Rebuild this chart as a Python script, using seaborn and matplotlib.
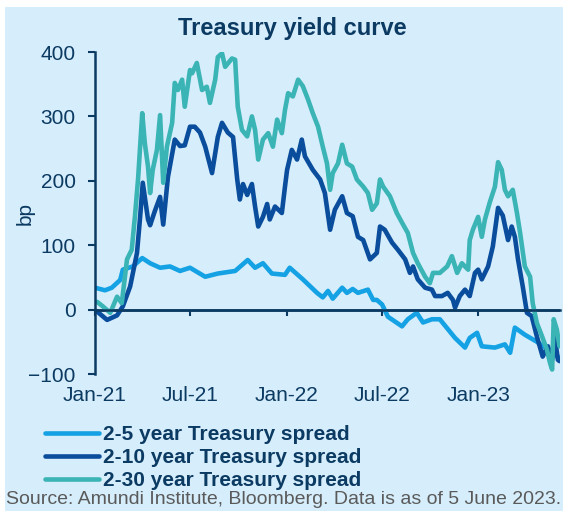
import seaborn as sns
import matplotlib.pyplot as plt
import matplotlib.patches as mpatches
import pandas as pd

# Days since 1 Jan 2021 and spread in bp
days_2_5 = [0, 19, 32, 48, 53, 72, 90, 105, 124, 143, 162, 181, 210, 234, 267, 291,
            305, 320, 337, 362, 371, 396, 423, 434, 444, 453, 471, 480, 491, 501,
            520, 530, 537, 547, 558, 585, 596, 613, 625, 642, 657, 667, 686, 705,
            714, 728, 737, 762, 781, 791, 800, 819, 842, 859, 872, 885]
spread_2_5 = [34, 30, 34, 46, 62, 67, 80, 72, 65, 67, 60, 65, 51, 56, 60, 77,
              65, 72, 56, 54, 65, 47, 26, 19, 29, 17, 34, 26, 32, 26,
              31, 15, 15, 8, -11, -26, -15, -5, -20, -15, -15, -25, -44, -59,
              -44, -36, -57, -59, -54, -67, -28, -39, -50, -60, -68, -75]

days_2_10 = [4, 23, 42, 53, 67, 80, 86, 91, 101, 105, 114, 124, 130, 139, 152, 162,
             171, 181, 190, 200, 210, 223, 234, 242, 253, 263, 271, 276, 282, 290,
             299, 305, 311, 320, 328, 333, 343, 356, 362, 366, 375, 385, 394, 400,
             415, 429, 438, 448, 457, 471, 480, 491, 501, 511, 524, 537, 543, 552,
             566, 577, 591, 600, 606, 615, 629, 642, 648, 661, 672, 682, 686, 695,
             705, 714, 724, 730, 737, 749, 758, 768, 777, 787, 794, 800, 806, 815,
             823, 832, 842, 853, 863, 871, 876, 882, 885]
spread_2_10 = [-3, -16, -9, 5, 36, 88, 144, 197, 140, 131, 153, 175, 132, 206, 264, 254,
               255, 284, 284, 275, 253, 212, 268, 290, 275, 268, 202, 171, 195, 178,
               195, 160, 129, 144, 164, 140, 160, 150, 191, 217, 248, 233, 264, 238,
               217, 202, 181, 124, 155, 176, 150, 145, 113, 108, 78, 88, 129, 124,
               104, 93, 78, 57, 67, 47, 34, 31, 21, 21, 26, 15, 3, 21,
               31, 21, 57, 62, 47, 67, 98, 158, 146, 108, 129, 113, 78, 36,
               -5, -10, -42, -73, -57, -78, -42, -78, -80]

days_2_30 = [4, 15, 29, 42, 51, 61, 70, 76, 82, 90, 95, 101, 105, 110, 118, 124,
             130, 137, 147, 152, 158, 166, 171, 181, 185, 194, 204, 213, 219, 229,
             234, 242, 248, 261, 267, 272, 280, 290, 299, 305, 311, 320, 330, 339,
             347, 356, 362, 368, 377, 387, 396, 406, 415, 425, 434, 442, 448, 453,
             463, 471, 480, 490, 499, 511, 520, 528, 537, 543, 549, 562, 575, 585,
             596, 606, 615, 629, 638, 644, 657, 671, 680, 690, 699, 711, 714, 720,
             730, 737, 743, 752, 762, 768, 775, 781, 787, 796, 804, 810, 819, 829,
             834, 842, 852, 861, 867, 871, 874, 880, 885]
spread_2_30 = [12, 5, -5, 20, 10, 78, 93, 144, 202, 305, 258, 222, 181, 217, 248, 302,
               197, 253, 290, 352, 341, 357, 315, 372, 367, 383, 341, 346, 321, 357,
               392, 398, 377, 390, 388, 315, 279, 269, 300, 279, 233, 264, 274, 253,
               295, 274, 310, 336, 331, 357, 347, 326, 305, 284, 253, 227, 186, 212,
               227, 256, 227, 222, 202, 191, 181, 155, 165, 202, 191, 176, 150, 135,
               119, 88, 72, 51, 41, 57, 57, 67, 83, 57, 72, 62, 108, 124,
               144, 113, 140, 166, 191, 229, 217, 186, 176, 186, 150, 119, 67, 51,
               10, -21, -42, -62, -83, -93, -15, -31, -57]

series_names = ["2-5 year Treasury spread", "2-10 year Treasury spread",
                "2-30 year Treasury spread"]
colors = ["#14a2e4", "#0a4d9c", "#3bb4b5"]
tick_dates = ["2021-01-01", "2021-07-01", "2022-01-01", "2022-07-01", "2023-01-01"]
tick_labels = ["Jan-21", "Jul-21", "Jan-22", "Jul-22", "Jan-23"]

navy = "#0b3a62"
bg = "#d6edfb"

start = pd.Timestamp("2021-01-01")
frames = []
for name, d, v in zip(series_names, [days_2_5, days_2_10, days_2_30],
                      [spread_2_5, spread_2_10, spread_2_30]):
    frames.append(pd.DataFrame({
        "date": start + pd.to_timedelta(d, unit="D"),
        "bp": v,
        "series": name,
    }))
df = pd.concat(frames, ignore_index=True)

sns.set_style("white")
plt.rcParams["font.family"] = ["Liberation Sans", "DejaVu Sans"]

fig = plt.figure(figsize=(5.63, 5.11), dpi=100, facecolor="white")
# light blue panel behind everything
fig.patches.append(mpatches.Rectangle((5 / 563, 0), 1, 1 - 7 / 511,
                                      transform=fig.transFigure,
                                      facecolor=bg, edgecolor="none", zorder=-5))
ax = fig.add_axes([95 / 563, 1 - 374 / 511, (560 - 95) / 563, (374 - 52) / 511])
ax.set_facecolor(bg)
ax.set_zorder(2)

ax.axhline(0, color=navy, lw=1.8, zorder=1)
sns.lineplot(data=df, x="date", y="bp", hue="series", hue_order=series_names,
             palette=colors, linewidth=3.3, estimator=None, ax=ax, zorder=2)

ax.set_ylim(-100, 400)
ax.set_xlim(start, pd.Timestamp("2023-06-06"))
ax.set_yticks([-100, 0, 100, 200, 300, 400])
ax.set_xticks(pd.to_datetime(tick_dates))
ax.set_xticklabels(tick_labels)

for s in ["top", "right"]:
    ax.spines[s].set_visible(False)
ax.spines["left"].set_color(navy)
ax.spines["left"].set_linewidth(1.8)
ax.spines["bottom"].set_position(("data", 0))
ax.spines["bottom"].set_color(navy)
ax.spines["bottom"].set_linewidth(1.8)

ax.tick_params(axis="y", direction="out", length=5, width=1.5, color=navy,
               labelcolor=navy, labelsize=15, pad=9, left=True)
ax.tick_params(axis="x", direction="out", length=4, width=1.5, color=navy,
               labelcolor=navy, labelsize=15, pad=51, bottom=True)

ax.set_xlabel("")
ax.set_ylabel("bp", color=navy, fontsize=15)
ax.yaxis.set_label_coords(-0.13, 0.5)

fig.text(292 / 563, 1 - 29 / 511, "Treasury yield curve", fontsize=17,
         fontweight="bold", color=navy, ha="center", va="center")

handles, labels = ax.get_legend_handles_labels()
ax.legend_.remove()
leg = fig.legend(handles, labels, loc="upper left", bbox_to_anchor=(45 / 563, 1 - 425 / 511),
                 frameon=False, handlelength=2.6, handletextpad=0.2,
                 labelspacing=0.2, borderpad=0, borderaxespad=0,
                 prop={"size": 15, "weight": "bold"})
for t in leg.get_texts():
    t.set_color(navy)
for line in leg.get_lines():
    line.set_linewidth(3.3)

fig.text(6 / 563, 1 - 500 / 511, "Source: Amundi Institute, Bloomberg. Data is as of 5 June 2023.",
         fontsize=14, color="#5a5a5a", va="center", ha="left")

plt.savefig("out.png", dpi=100, facecolor="white")
